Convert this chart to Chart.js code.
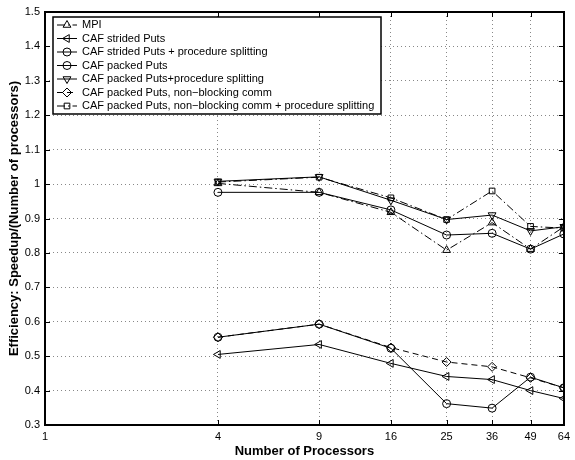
<!DOCTYPE html>
<html>
<head>
<meta charset="utf-8">
<script src="https://cdn.jsdelivr.net/npm/chart.js@4.4.1/dist/chart.umd.min.js"></script>
<style>
body { margin: 0; background: #fff; }
#wrap { width: 575px; height: 460px; }
</style>
</head>
<body>
<div id="wrap"><canvas id="eff"></canvas></div>
<script>
// processor counts and efficiency values
var procs = [4, 9, 16, 25, 36, 49, 64];
var xTicks = [1, 4, 9, 16, 25, 36, 49, 64];
var yMin = 0.3, yMax = 1.5, yStep = 0.1;

var mpi            = [1.002, 0.976, 0.918, 0.808, 0.888, 0.811, 0.876];
var stridedPuts    = [0.505, 0.534, 0.479, 0.441, 0.432, 0.400, 0.377];
var stridedSplit   = [0.555, 0.593, 0.523, 0.362, 0.349, 0.439, 0.408];
var packedPuts     = [0.976, 0.976, 0.925, 0.852, 0.857, 0.811, 0.855];
var packedSplit    = [1.008, 1.021, 0.953, 0.897, 0.910, 0.864, 0.876];
var nonBlocking    = [0.555, 0.593, 0.525, 0.483, 0.469, 0.437, 0.408];
var nonBlockSplit  = [1.006, 1.020, 0.960, 0.897, 0.980, 0.877, 0.872];

var labels = [
    'MPI',
    'CAF strided Puts',
    'CAF strided Puts + procedure splitting',
    'CAF packed Puts',
    'CAF packed Puts+procedure splitting',
    'CAF packed Puts, non\u2212blocking comm',
    'CAF packed Puts, non\u2212blocking comm + procedure splitting'
];

var DASHDOT = [8, 3, 1.5, 3];
var DASHED = [6, 4];

function series(label, values, marker, rot, dash, r) {
    return {
        label: label,
        data: procs.map(function (p, i) { return { x: p, y: values[i] }; }),
        borderColor: '#000',
        borderWidth: 1,
        borderDash: dash,
        backgroundColor: 'rgba(0,0,0,0)',
        pointStyle: marker,
        pointRotation: rot,
        pointRadius: r,
        pointBorderColor: '#000',
        pointBorderWidth: 1,
        pointBackgroundColor: 'rgba(0,0,0,0)',
        fill: false,
        tension: 0
    };
}

var frame = {
    id: 'frame',
    beforeDraw: function (chart) {
        var c = chart.ctx;
        c.save();
        c.fillStyle = '#fff';
        c.fillRect(0, 0, chart.width, chart.height);
        c.restore();
    },
    afterDatasetsDraw: function (chart) {
        var c = chart.ctx, a = chart.chartArea;
        var xs = chart.scales.x, ys = chart.scales.y;
        c.save();
        c.strokeStyle = '#000';
        c.lineWidth = 1;
        c.beginPath();
        xTicks.forEach(function (v) {
            var px = Math.round(xs.getPixelForValue(v)) + 0.5;
            c.moveTo(px, a.bottom); c.lineTo(px, a.bottom - 5);
            c.moveTo(px, a.top); c.lineTo(px, a.top + 5);
        });
        for (var v = yMin; v <= yMax + 1e-9; v += yStep) {
            var py = Math.round(ys.getPixelForValue(v)) + 0.5;
            c.moveTo(a.left, py); c.lineTo(a.left + 5, py);
            c.moveTo(a.right, py); c.lineTo(a.right - 5, py);
        }
        c.stroke();
        c.lineWidth = 2;
        c.strokeRect(Math.round(a.left), Math.round(a.top), Math.round(a.right - a.left), Math.round(a.bottom - a.top));

        // legend box, top left inside the plot
        var lx = 53, ly = 17, lw = 328, lh = 97;
        c.fillStyle = '#fff';
        c.fillRect(lx, ly, lw, lh);
        c.lineWidth = 1.5;
        c.strokeRect(lx, ly, lw, lh);
        c.font = '11px "Liberation Sans", Arial, sans-serif';
        c.textBaseline = 'middle';
        chart.data.datasets.forEach(function (ds, i) {
            var y = 25 + i * 13.5;
            c.strokeStyle = '#000';
            c.lineWidth = 1;
            c.setLineDash(ds.borderDash || []);
            c.beginPath();
            c.moveTo(57, y); c.lineTo(77, y);
            c.stroke();
            c.setLineDash([]);
            c.fillStyle = 'rgba(0,0,0,0)';
            Chart.helpers.drawPoint(c, {
                pointStyle: ds.pointStyle, radius: ds.pointRadius,
                rotation: ds.pointRotation, borderWidth: 1
            }, 67, y);
            c.fillStyle = '#000';
            c.fillText(ds.label, 82, y);
        });
        c.restore();
    }
};

Chart.defaults.font.family = '"Liberation Sans", Arial, sans-serif';
Chart.defaults.color = '#000';

var chart = new Chart(document.getElementById('eff'), {
    type: 'line',
    data: {
        datasets: [
            series(labels[0], mpi, 'triangle', 0, DASHDOT, 4.5),
            series(labels[1], stridedPuts, 'triangle', -90, [], 4.5),
            series(labels[2], stridedSplit, 'circle', 0, [], 4),
            series(labels[3], packedPuts, 'circle', 0, [], 4),
            series(labels[4], packedSplit, 'triangle', 180, [], 4.5),
            series(labels[5], nonBlocking, 'rectRot', 0, DASHED, 4.5),
            series(labels[6], nonBlockSplit, 'rect', 0, DASHDOT, 4)
        ]
    },
    options: {
        responsive: true,
        maintainAspectRatio: false,
        animation: false,
        layout: { padding: { top: 12, right: 5, left: 0, bottom: 0 } },
        plugins: {
            legend: { display: false },
            tooltip: { enabled: false }
        },
        scales: {
            x: {
                type: 'logarithmic',
                min: 1,
                max: 64,
                afterBuildTicks: function (s) {
                    s.ticks = xTicks.map(function (v) { return { value: v }; });
                },
                afterFit: function (s) { s.height = 35; },
                ticks: {
                    autoSkip: false,
                    maxRotation: 0,
                    padding: 5,
                    font: { size: 11 },
                    callback: function (v) { return String(v); }
                },
                grid: { color: '#888', lineWidth: 1, drawTicks: false },
                border: { display: false, dash: [1, 3] },
                title: {
                    display: true,
                    text: 'Number of Processors',
                    font: { size: 13, weight: 'bold' },
                    padding: { top: 0, bottom: 1 }
                }
            },
            y: {
                min: yMin,
                max: yMax,
                afterFit: function (s) { s.width = 45; },
                ticks: {
                    stepSize: yStep,
                    padding: 5,
                    font: { size: 11 },
                    callback: function (v) { return String(parseFloat(v.toFixed(1))); }
                },
                grid: { color: '#888', lineWidth: 1, drawTicks: false },
                border: { display: false, dash: [1, 3] },
                title: {
                    display: true,
                    text: 'Efficiency: Speedup/(Number of processors)',
                    font: { size: 13, weight: 'bold' },
                    padding: { top: 7, bottom: 0 }
                }
            }
        }
    },
    plugins: [frame]
});
</script>
</body>
</html>
